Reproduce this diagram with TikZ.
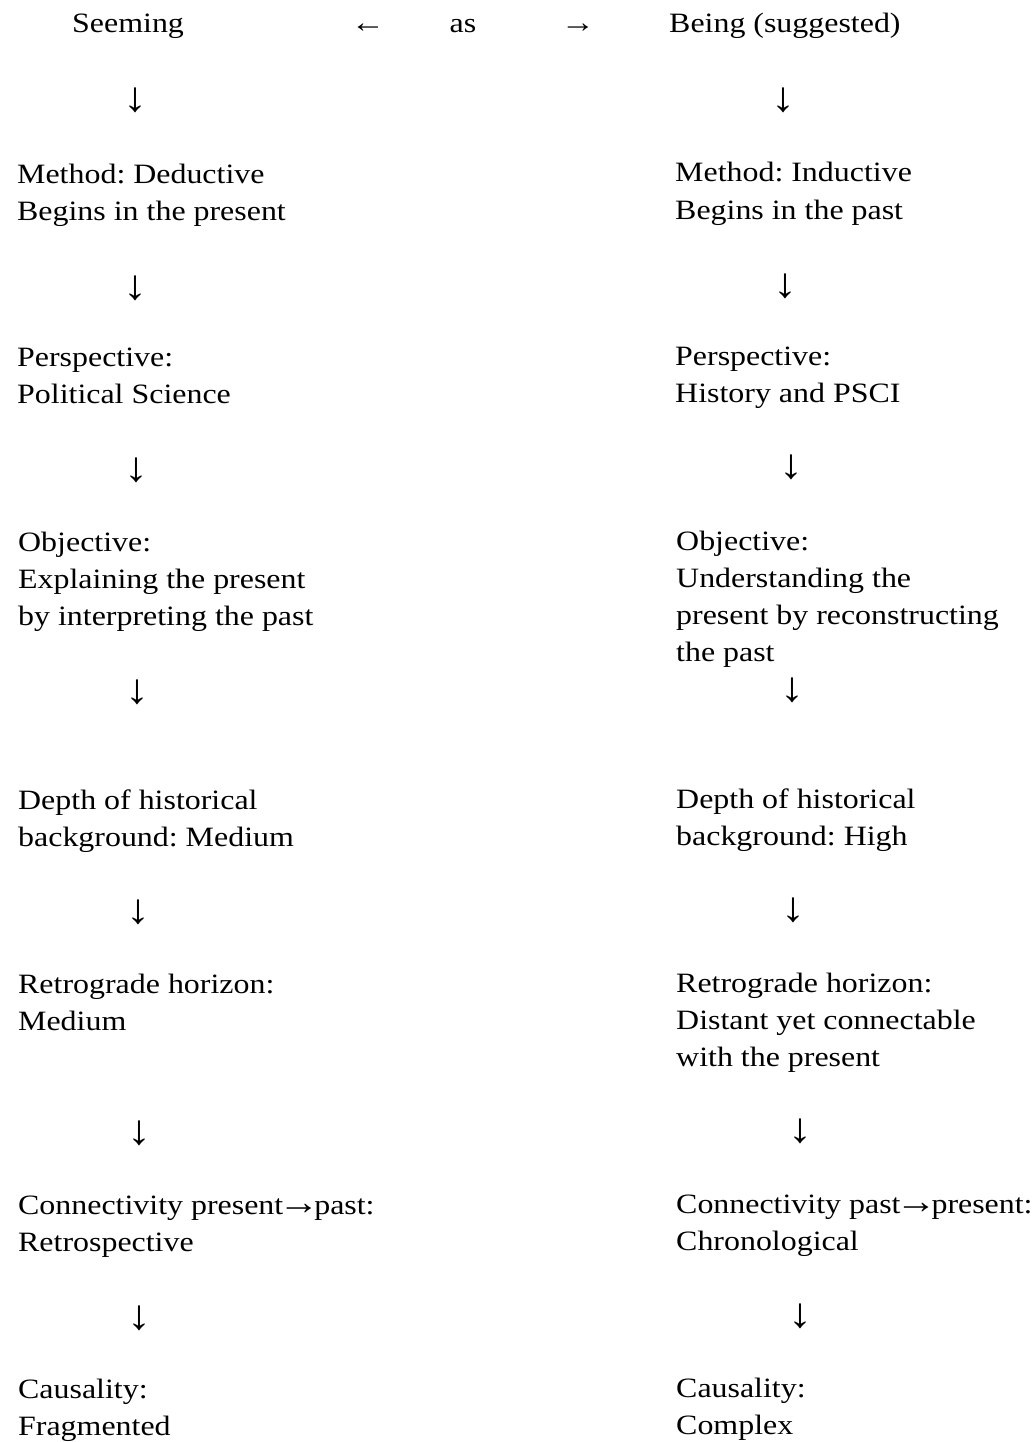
\documentclass[tikz,border=0pt]{standalone}
\usepackage{fontspec}
\setmainfont{Liberation Serif}[FakeStretch=1.14]
\frenchspacing
\newcommand{\inarr}{\kern-5pt{\fontsize{36}{37}\selectfont→}\kern-5pt}
\begin{document}
\begin{tikzpicture}[x=1pt,y=-1pt,
  txt/.style={anchor=base west,inner sep=0pt,font=\fontsize{28}{37}\selectfont},
  glyph/.style={anchor=base,inner sep=0pt,font=\fontsize{30}{37}\selectfont},
  down/.style={anchor=center,inner sep=0pt,font=\fontsize{42}{44}\selectfont}]
\useasboundingbox (0,0) rectangle (1035,1442);
% header
\node[txt] (seem) at (72,33) {Seeming};
\node[glyph] (la) at (368,33) {←};
\node[glyph,font=\fontsize{28}{37}\selectfont] (as) at (463,33) {as};
\node[glyph] (ra) at (578,33) {→};
\node[txt] (being) at (669,33) {Being (suggested)};
% left column
\node[down] (ld1) at (135,100) {↓};
\node[txt] (l1a) at (17,183) {Method: Deductive};
\node[txt] (l1b) at (17,220) {Begins in the present};
\node[down] (ld2) at (135,288) {↓};
\node[txt] (l2a) at (17,366) {Perspective:};
\node[txt] (l2b) at (17,403) {Political Science};
\node[down] (ld3) at (136,470) {↓};
\node[txt] (l3a) at (18,551) {Objective:};
\node[txt] (l3b) at (18,588) {Explaining the present};
\node[txt] (l3c) at (18,625) {by interpreting the past};
\node[down] (ld4) at (137,692) {↓};
\node[txt] (l4a) at (18,809) {Depth of historical};
\node[txt] (l4b) at (18,846) {background: Medium};
\node[down] (ld5) at (138,912) {↓};
\node[txt] (l5a) at (18,993) {Retrograde horizon:};
\node[txt] (l5b) at (18,1030) {Medium};
\node[down] (ld6) at (139,1133) {↓};
\node[txt] (l6a) at (18,1214) {Connectivity present\inarr past:};
\node[txt] (l6b) at (18,1251) {Retrospective};
\node[down] (ld7) at (139,1318) {↓};
\node[txt] (l7a) at (18,1398) {Causality:};
\node[txt] (l7b) at (18,1435) {Fragmented};
% right column
\node[down] (rd1) at (783,100) {↓};
\node[txt] (r1a) at (675,182) {Method: Inductive};
\node[txt] (r1b) at (675,219) {Begins in the past};
\node[down] (rd2) at (785,286) {↓};
\node[txt] (r2a) at (675,365) {Perspective:};
\node[txt] (r2b) at (675,402) {History and PSCI};
\node[down] (rd3) at (791,467) {↓};
\node[txt] (r3a) at (676,550) {Objective:};
\node[txt] (r3b) at (676,587) {Understanding the};
\node[txt] (r3c) at (676,624) {present by reconstructing};
\node[txt] (r3d) at (676,661) {the past};
\node[down] (rd4) at (792,690) {↓};
\node[txt] (r4a) at (676,808) {Depth of historical};
\node[txt] (r4b) at (676,845) {background: High};
\node[down] (rd5) at (793,910) {↓};
\node[txt] (r5a) at (676,992) {Retrograde horizon:};
\node[txt] (r5b) at (676,1029) {Distant yet connectable};
\node[txt] (r5c) at (676,1066) {with the present};
\node[down] (rd6) at (800,1131) {↓};
\node[txt] (r6a) at (676,1213) {Connectivity past\inarr present:};
\node[txt] (r6b) at (676,1250) {Chronological};
\node[down] (rd7) at (800,1316) {↓};
\node[txt] (r7a) at (676,1397) {Causality:};
\node[txt] (r7b) at (676,1434) {Complex};
\end{tikzpicture}
\end{document}
